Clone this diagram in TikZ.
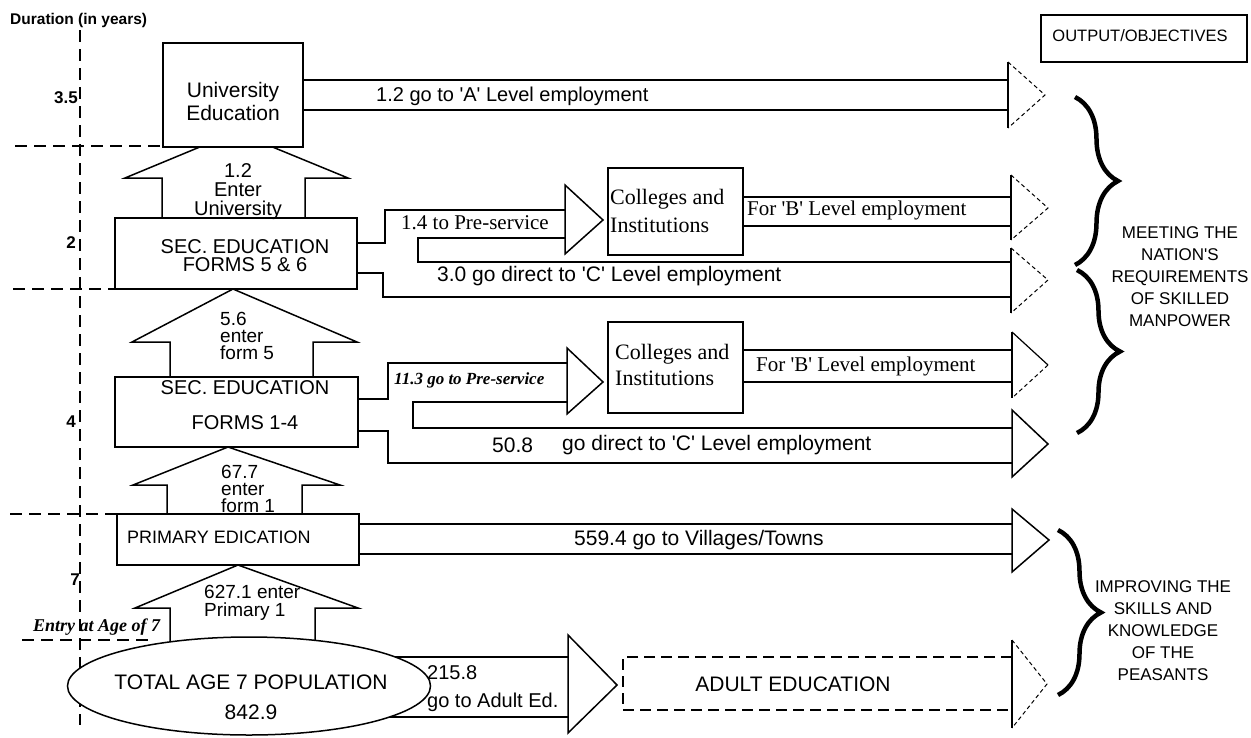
\documentclass[tikz,border=0pt]{standalone}
\usepackage{fontspec}
\setmainfont{Liberation Sans}[Ligatures=TeXOff]
\newfontfamily\tmsfont{Liberation Serif}[Ligatures=TeXOff]
\usetikzlibrary{decorations.pathreplacing,shapes.geometric}
\newcommand\fsz[2]{\fontsize{#1}{#2}\selectfont}
\begin{document}
\begin{tikzpicture}[x=1pt,y=-1pt,
  ln/.style={line width=1.5pt, line join=miter},
  box/.style={draw, line width=1.5pt, fill=white, inner sep=0pt, rectangle},
  axis/.style={line width=1.5pt, dash pattern=on 12pt off 7pt},
  dsh/.style={line width=1pt, dash pattern=on 4pt off 3pt},
  adsh/.style={line width=1.5pt, dash pattern=on 11pt off 6pt},
  lbl/.style={inner sep=0pt, align=center},
  lbll/.style={inner sep=0pt, align=left, anchor=west},
  yr/.style={inner sep=0pt, anchor=east, font=\fsz{17}{18}\bfseries},
  brc/.style={decorate, decoration={brace, amplitude=43pt}, line width=4.5pt}]
\useasboundingbox (0,0) rectangle (1251,737);

% axis
\draw[axis] (80,30) -- (80,725);
\draw[axis] (15,146) -- (165,146);
\draw[axis] (13,289) -- (115,289);
\draw[axis] (10,514) -- (117,514);
\draw[axis] (22,640) -- (150,640);
\node[lbll, font=\fsz{15.5}{17}\bfseries] (dur) at (10,20) {Duration (in years)};
\node[yr] (y35) at (78,98) {3.5};
\node[yr] (y2) at (76,243) {2};
\node[yr] (y4) at (76,422) {4};
\node[yr] (y7) at (80,580) {7};
\node[lbll, font=\fsz{18}{20}\tmsfont\bfseries\itshape] (entry) at (33,627) {Entry at Age of 7};

% up arrows (drawn first, boxes hide the tips)
\draw[ln] (162,218) -- (162,178) -- (125,178) -- (236,132) -- (348,178) -- (305,178) -- (305,218);
\draw[ln] (170,377) -- (170,342) -- (132,342) -- (233,289) -- (357,342) -- (313,342) -- (313,377);
\draw[ln] (167,514) -- (167,485) -- (133,485) -- (228,447) -- (340,485) -- (302,485) -- (302,514);
\draw[ln] (170,655) -- (170,608) -- (135,608) -- (238,565) -- (358,608) -- (315,608) -- (315,655);

% adult band under the ellipse
\draw[ln] (370,657) -- (568,657);
\draw[ln] (370,717) -- (568,717);

% boxes
\node[box, minimum width=140pt, minimum height=104pt] (uni) at (233,95) {};
\node[box, minimum width=242pt, minimum height=71pt] (sec56) at (236,253.5) {};
\node[box, minimum width=135pt, minimum height=87pt] (col1) at (675.5,211.5) {};
\node[box, minimum width=243pt, minimum height=70pt] (sec14) at (236.5,412) {};
\node[box, minimum width=135pt, minimum height=91pt] (col2) at (675.5,367.5) {};
\node[box, minimum width=242pt, minimum height=51pt] (prim) at (238,539.5) {};
\node[draw, ellipse, line width=1.5pt, fill=white, inner sep=0pt, minimum width=363pt, minimum height=98pt] (pop) at (249,686) {};
\node[box, minimum width=206pt, minimum height=47pt] (out) at (1144,38.5) {};

% branching bands
\draw[ln] (357,243) -- (385,243) -- (385,210) -- (565,210);
\draw[ln] (565,238) -- (418,238) -- (418,262) -- (1011,262);
\draw[ln] (357,273) -- (383,273) -- (383,297) -- (1011,297);
\draw[ln] (358,399) -- (388,399) -- (388,363) -- (567,363);
\draw[ln] (567,402) -- (413,402) -- (413,428) -- (1012,428);
\draw[ln] (358,431) -- (388,431) -- (388,463) -- (1012,463);
% straight bands
\draw[ln] (303,80) -- (1008,80);
\draw[ln] (303,110) -- (1008,110);
\draw[ln] (743,197) -- (1011,197);
\draw[ln] (743,226) -- (1011,226);
\draw[ln] (743,350) -- (1012,350);
\draw[ln] (743,382) -- (1012,382);
\draw[ln] (359,524) -- (1012,524);
\draw[ln] (359,554) -- (1012,554);
% adult education (dashed)
\draw[adsh] (1012,657) -- (623,657) -- (623,710) -- (1012,710);

% pre-service heads
\draw[ln] (565,185) -- (603,220) -- (565,254) -- cycle;
\draw[ln] (567,348) -- (603,382) -- (567,414) -- cycle;
\draw[ln] (568,635) -- (617,685) -- (568,733) -- cycle;

% output heads
\draw[ln] (1008,62) -- (1008,128);
\draw[dsh] (1008,62) -- (1045,95) -- (1008,128);
\draw[ln] (1011,175) -- (1011,240);
\draw[dsh] (1011,175) -- (1048,208) -- (1011,240);
\draw[ln] (1011,248) -- (1011,313);
\draw[dsh] (1011,248) -- (1048,280) -- (1011,313);
\draw[ln] (1012,332) -- (1012,398);
\draw[line width=1.2pt] (1012,332) -- (1048,365);
\draw[dsh] (1048,365) -- (1012,398);
\draw[ln] (1012,410) -- (1048,444) -- (1012,477) -- cycle;
\draw[ln] (1012,509) -- (1049,540) -- (1012,572) -- cycle;
\draw[ln] (1012,640) -- (1012,728);
\draw[dsh] (1012,640) -- (1047,684) -- (1012,728);

% braces
\draw[brc] (1075,97) -- (1075,265);
\draw[brc] (1077,270) -- (1077,433);
\draw[brc] (1058,530) -- (1058,695);

% texts
\node[lbl, font=\fsz{21}{23}] (tuni) at (233,101) {University\\Education};
\node[lbll, font=\fsz{20}{22}] (ta) at (376,96) {1.2 go to 'A' Level employment};
\node[lbl, font=\fsz{20}{19}] (t12) at (238,192) {1.2\\Enter\\University};
\node[lbl, font=\fsz{20}{18}] (t56) at (245,256) {SEC. EDUCATION\\FORMS 5 \& 6};
\node[lbll, font=\fsz{21}{23}\tmsfont] (tp1) at (401,223) {1.4 to Pre-service};
\node[lbll, font=\fsz{22}{28}\tmsfont] (tc1) at (610,211) {Colleges and\\Institutions};
\node[lbll, font=\fsz{21}{23}\tmsfont] (tb1) at (747,210) {For 'B' Level employment};
\node[lbll, font=\fsz{21}{23}] (tc1l) at (437,276) {3.0 go direct to 'C' Level employment};
\node[lbll, font=\fsz{19}{17}] (t5) at (220,336) {5.6\\enter\\form 5};
\node[lbl, font=\fsz{20}{35}] (t14) at (245,405) {SEC. EDUCATION\\FORMS 1-4};
\node[lbll, font=\fsz{17}{19}\tmsfont\bfseries\itshape] (tp2) at (394,380) {11.3 go to Pre-service};
\node[lbll, font=\fsz{22}{26}\tmsfont] (tc2) at (615,365) {Colleges and\\Institutions};
\node[lbll, font=\fsz{21}{23}\tmsfont] (tb2) at (756,366) {For 'B' Level employment};
\node[lbll, font=\fsz{21}{23}] (t508) at (492,445) {50.8};
\node[lbll, font=\fsz{21}{23}] (tc2l) at (562,445) {go direct to 'C' Level employment};
\node[lbll, font=\fsz{19}{17}] (t67) at (221,489) {67.7\\enter\\form 1};
\node[lbll, font=\fsz{18}{20}] (tprim) at (127,537) {PRIMARY EDICATION};
\node[lbll, font=\fsz{21}{23}] (tvil) at (574,540) {559.4 go to Villages/Towns};
\node[lbll, font=\fsz{19}{18}] (t627) at (204,603) {627.1 enter\\Primary 1};
\node[lbl, font=\fsz{21}{30}] (tpop) at (251,697) {TOTAL AGE 7 POPULATION\\842.9};
\node[lbll, font=\fsz{20}{28}] (tad) at (427,689) {215.8\\go to Adult Ed.};
\node[lbl, font=\fsz{21}{23}] (tadult) at (793,684) {ADULT EDUCATION};
\node[lbl, font=\fsz{16.5}{18}] (tout) at (1140,36) {OUTPUT/OBJECTIVES};
\node[lbl, font=\fsz{17}{22}] (tm) at (1180,277) {MEETING THE\\NATION'S\\REQUIREMENTS\\OF SKILLED\\MANPOWER};
\node[lbl, font=\fsz{17}{22}] (ti) at (1163,631) {IMPROVING THE\\SKILLS AND\\KNOWLEDGE\\OF THE\\PEASANTS};
\end{tikzpicture}
\end{document}
